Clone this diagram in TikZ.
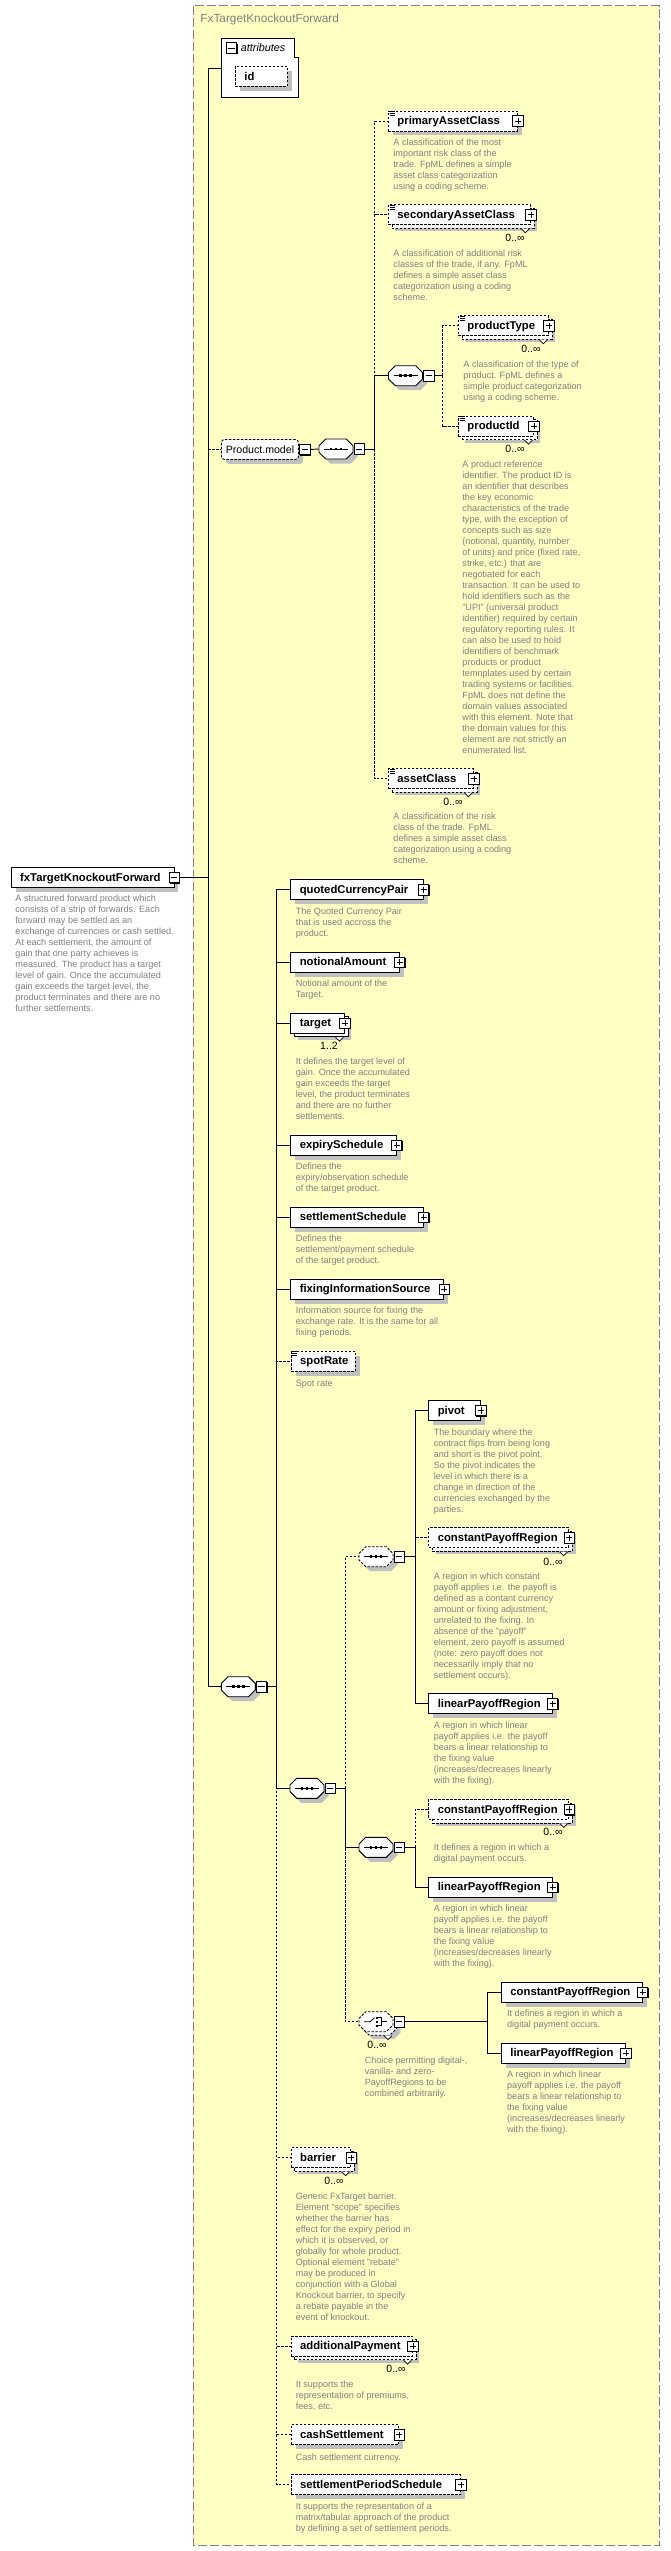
\documentclass[tikz,border=0pt]{standalone}
\usepackage{fontspec}
\setmainfont{Liberation Sans}
\usetikzlibrary{shadows}

\definecolor{paneyellow}{HTML}{FFFFC4}
\definecolor{framegray}{HTML}{808080}
\definecolor{notegray}{HTML}{808080}
\definecolor{shadowgray}{HTML}{C0C0C0}

\begin{document}
\begin{tikzpicture}[line width=0.9pt, x=1pt, y=-1pt,
  optdash/.style={dash pattern=on 2.5pt off 1.5pt},
  optline/.style={optdash},
  boxbase/.style={draw, fill=white, anchor=north west, minimum height=20pt,
    inner xsep=9pt, inner ysep=0pt, align=left, text height=9pt, text depth=1.4pt,
    font=\fontsize{11.3}{13}\selectfont\bfseries},
  elem/.style={boxbase, drop shadow={shadow xshift=4.5pt, shadow yshift=-4.5pt, fill=shadowgray, draw=none, opacity=1}},
  optelem/.style={elem, optdash},
  multi/.style={boxbase,
    drop shadow={shadow xshift=7pt, shadow yshift=-6.5pt, fill=shadowgray, draw=none, opacity=1},
    general shadow={shadow xshift=3.5pt, shadow yshift=-3.5pt, fill=white, draw=black, #1}},
  optmulti/.style={multi=optdash, optdash},
  groupbox/.style={draw, fill=white, optdash, rounded corners=3pt, anchor=north west,
    minimum width=77pt, minimum height=20pt, inner sep=0pt, font=\fontsize{10.6}{12}\selectfont,
    drop shadow={shadow xshift=4.5pt, shadow yshift=-4.5pt, fill=shadowgray, draw=none, opacity=1}},
  compnode/.style={minimum width=34pt, minimum height=20pt, inner sep=0pt},
  xbox/.style={draw, fill=white, minimum size=10.5pt, inner sep=0pt, line width=0.8pt,
    drop shadow={shadow xshift=0.8pt, shadow yshift=-0.8pt, fill=black, opacity=1}},
  minusbox/.style={xbox, path picture={
    \draw ([xshift=2.2pt]path picture bounding box.west) -- ([xshift=-2.2pt]path picture bounding box.east);}},
  plusbox/.style={xbox, path picture={
    \draw ([xshift=2.2pt]path picture bounding box.west) -- ([xshift=-2.2pt]path picture bounding box.east)
          ([yshift=2.2pt]path picture bounding box.south) -- ([yshift=-2.2pt]path picture bounding box.north);}},
  desc/.style={anchor=north west, inner sep=0pt, align=left, text=notegray,
    font=\fontsize{9.1}{11}\selectfont, execute at begin node=\strut},
  mult/.style={inner sep=0pt, font=\fontsize{10.5}{12}\selectfont},
  octpath/.style={insert path={(-17,-3.3) -- (-10.3,-10) -- (10.3,-10) -- (17,-3.3)
    -- (17,3.3) -- (10.3,10) -- (-10.3,10) -- (-17,3.3) -- cycle}},
  pics/seqshape/.style={code={
    \fill[shadowgray, shift={(4.5,4.5)}, octpath];
    \draw[fill=white, #1, octpath];
    \draw[line width=0.8pt] (-12,0) -- (12,0);
    \foreach \dx in {-5,0,5} \fill (\dx-1.4,-1.4) rectangle (\dx+1.4,1.4);
  }},
  pics/choiceshape/.style={code={
    \fill[shadowgray, shift={(7.5,7.5)}, octpath];
    \draw[fill=white, optdash, shift={(3.5,3.5)}, octpath];
    \draw[fill=white, optdash, octpath];
    \draw[line width=0.8pt] (-12,0) -- (-6,0) -- (-1.5,-4);
    \foreach \dy in {-4,0,4} \fill (0,\dy-1.2) rectangle (2.4,\dy+1.2);
    \draw[line width=0.8pt] (2.4,-4) -- (5,-4) -- (5,4) -- (2.4,4) (5,0) -- (11,0);
  }},
  pics/docicon/.style={code={
    \foreach \k in {1,3,5} \draw[line width=0.6pt] (1.5,\k) -- (6.5,\k);
  }},
  pics/notch/.style={code={
    \draw[fill=white, line width=0.7pt] (-4,0) -- (0,4) -- (4,0);
  }}]
  \useasboundingbox (0,0) rectangle (670,2551);
  \fill[white] (0,0) rectangle (670,2551);

  % The complex type pane behind the content model.
  \draw[framegray, fill=paneyellow, dash pattern=on 9pt off 3pt, line width=1pt] (193.5,5.5) rectangle (659,2545);
  \node[anchor=west, inner sep=0pt, text=framegray, font=\fontsize{11.8}{14}\selectfont] (pane-title) at (200,19) {FxTargetKnockoutForward};

  % The root element.
  \node[elem, text width=144.8pt] (fxtko) at (10.7,867) {fxTargetKnockoutForward};
  \node[minusbox] (fxtko-x) at (fxtko.east) {};

  % The attributes block with its one optional attribute.
  \draw[fill=white] (221,38.3) -- (294,38.3) -- (294,57.3) -- (298,57.3) -- (298,97.3) -- (221,97.3) -- cycle;
  \coordinate (attrs) at (221,68.3);
  \node[minusbox] (attrs-x) at (231.5,48) {};
  \node[anchor=west, inner sep=0pt, font=\fontsize{10.8}{12}\selectfont\itshape] (attrs-lbl) at (240.5,48) {attributes};
  \node[optelem, text width=34pt] (idattr) at (235,66) {id};

  % The optional Product.model group.
  \node[groupbox] (prodmodel) at (221,439) {Product.model};
  \node[minusbox] (prodmodel-x) at ([xshift=6pt]prodmodel.east) {};
  \node[compnode] (pmseq) at (336,449) {};
  \pic at (pmseq) {seqshape=solid};
  \node[minusbox] (pmseq-x) at ([xshift=5.7pt]pmseq.east) {};
  \node[compnode] (ptseq) at (405.5,375.7) {};
  \pic at (ptseq) {seqshape=solid};
  \node[minusbox] (ptseq-x) at ([xshift=5.7pt]ptseq.east) {};

  \node[optelem, text width=111pt] (primaryAC) at (388,110.5) {primaryAssetClass};
  \node[optmulti, text width=124pt] (secondaryAC) at (388,204.3) {secondaryAssetClass};
  \node[optmulti, text width=72pt] (prodType) at (458,315.3) {productType};
  \node[optmulti, text width=57pt] (prodId) at (458,415.7) {productId};
  \node[optmulti, text width=67pt] (assetCls) at (388,768.3) {assetClass};

  % The main sequence of the type.
  \node[compnode] (mainseq) at (238.3,1686.7) {};
  \pic at (mainseq) {seqshape=solid};
  \node[minusbox] (mainseq-x) at ([xshift=5.7pt]mainseq.east) {};

  \node[elem, text width=114.4pt] (qcp) at (290.3,879.3) {quotedCurrencyPair};
  \node[elem, text width=90.4pt] (notional) at (290.3,951.7) {notionalAmount};
  \node[multi=solid, text width=35.7pt] (target) at (290.3,1012.7) {target};
  \node[elem, text width=87.4pt] (expiry) at (290.3,1134.7) {expirySchedule};
  \node[elem, text width=114.4pt] (settleSched) at (290.3,1206.7) {settlementSchedule};
  \node[elem, text width=135pt] (fixingSrc) at (290.3,1278.7) {fixingInformationSource};
  \node[optelem, text width=46pt] (spotRate) at (290.7,1350.7) {spotRate};

  % The payoff regions: a sequence, a second sequence and a choice.
  \node[compnode] (midseq) at (307,1788.3) {};
  \pic at (midseq) {seqshape=solid};
  \node[minusbox] (midseq-x) at ([xshift=5.7pt]midseq.east) {};
  \node[compnode] (pvseq) at (376,1556.7) {};
  \pic at (pvseq) {seqshape=optdash};
  \node[minusbox] (pvseq-x) at ([xshift=5.7pt]pvseq.east) {};
  \node[compnode] (regseq) at (376,1847.3) {};
  \pic at (regseq) {seqshape=solid};
  \node[minusbox] (regseq-x) at ([xshift=5.7pt]regseq.east) {};
  \node[compnode] (regchoice) at (376,2021.7) {};
  \pic at (regchoice) {choiceshape};
  \node[minusbox] (regchoice-x) at ([xshift=5.7pt]regchoice.east) {};

  \node[elem, text width=33.7pt] (pivot) at (428.3,1400) {pivot};
  \node[optmulti, text width=122pt] (constA) at (428.3,1527.3) {constantPayoffRegion};
  \node[elem, text width=105.4pt] (linA) at (428.3,1693.3) {linearPayoffRegion};
  \node[optmulti, text width=122pt] (constB) at (428.3,1799) {constantPayoffRegion};
  \node[elem, text width=105.4pt] (linB) at (428.3,1876.7) {linearPayoffRegion};
  \node[elem, text width=122.7pt] (constC) at (501,1981.7) {constantPayoffRegion};
  \node[elem, text width=106pt] (linC) at (501,2042.7) {linearPayoffRegion};

  % The optional tail of the main sequence.
  \node[optmulti, text width=41.6pt] (barrier) at (290.7,2147.3) {barrier};
  \node[optmulti, text width=103.3pt] (addPay) at (290.7,2335.7) {additionalPayment};
  \node[optelem, text width=89.6pt] (cashSettle) at (290.7,2424.3) {cashSettlement};
  \node[optelem, text width=151.3pt] (periodSched) at (290.7,2474.3) {settlementPeriodSchedule};

  % Expand buttons, occurrence notches and documentation marks.
  \foreach \el in {primaryAC,secondaryAC,prodType,prodId,assetCls,qcp,notional,target,expiry,
      settleSched,fixingSrc,pivot,constA,linA,constB,linB,constC,linC,barrier,addPay,cashSettle,periodSched}
    \node[plusbox] (\el-x) at (\el.east) {};
  \foreach \el in {secondaryAC,prodType,prodId,assetCls,target,constA,constB,barrier,addPay}
    \pic at ([xshift=-5.5pt,yshift=-3.5pt]\el.south east) {notch};
  \pic at ([xshift=-5.5pt,yshift=-3.5pt]regchoice.south east) {notch};
  \foreach \el in {primaryAC,secondaryAC,prodType,prodId,assetCls,spotRate}
    \pic at (\el.north west) {docicon};

  % Connectors: solid for required children, dashed for optional ones.
  \draw (fxtko-x.east) -- ++(27.95,0) coordinate (trunk);
  \draw[optline] (trunk) |- (prodmodel.west);
  \draw (trunk) |- (attrs);
  \draw (trunk) |- (mainseq.west);

  \draw (prodmodel-x.east) -- (pmseq.west);
  \draw (pmseq-x.east) -- ++(9.75,0) coordinate (pmbus);
  \foreach \kid in {primaryAC,secondaryAC,assetCls}
    \draw[optline] (pmbus) |- (\kid.west);
  \draw (pmbus) |- (ptseq.west);
  \draw (ptseq-x.east) -- ++(8.5,0) coordinate (ptbus);
  \draw[optline] (ptbus) |- (prodType.west);
  \draw[optline] (ptbus) |- (prodId.west);

  \draw (mainseq-x.east) -- ++(9.45,0) coordinate (mainbus);
  \foreach \kid in {spotRate,barrier,addPay,cashSettle,periodSched}
    \draw[optline] (mainbus) |- (\kid.west);
  \foreach \kid in {qcp,notional,target,expiry,settleSched,fixingSrc,midseq}
    \draw (mainbus) |- (\kid.west);

  \draw (midseq-x.east) -- ++(9.35,0) coordinate (midbus);
  \draw[optline] (midbus) |- (pvseq.west);
  \draw[optline] (midbus) |- (regchoice.west);
  \draw (midbus) |- (regseq.west);

  \draw (pvseq-x.east) -- ++(10.3,0) coordinate (pvbus);
  \draw[optline] (pvbus) |- (constA.west);
  \draw (pvbus) |- (pivot.west);
  \draw (pvbus) |- (linA.west);
  \draw (regseq-x.east) -- ++(10.3,0) coordinate (regbus);
  \draw[optline] (regbus) |- (constB.west);
  \draw (regbus) |- (linB.west);
  \draw (regchoice-x.east) -- ++(83,0) coordinate (choicebus);
  \draw (choicebus) |- (constC.west);
  \draw (choicebus) |- (linC.west);

  % Occurrence counts.
  \node[mult] (secondaryAC-m) at (515,238) {0..∞};
  \node[mult] (prodType-m) at (531,349) {0..∞};
  \node[mult] (prodId-m) at (515,449) {0..∞};
  \node[mult] (assetCls-m) at (453,801.7) {0..∞};
  \node[mult] (target-m) at (329,1046) {1..2};
  \node[mult] (constA-m) at (553,1561.7) {0..∞};
  \node[mult] (constB-m) at (553,1832.3) {0..∞};
  \node[mult] (regchoice-m) at (377,2045) {0..∞};
  \node[mult] (barrier-m) at (334,2181) {0..∞};
  \node[mult] (addPay-m) at (396,2369) {0..∞};

  % Annotations under each item.
  \node[desc] (fxtko-d) at (15,894.6) {A structured forward product which\\consists of a strip of forwards. Each\\forward may be settled as an\\exchange of currencies or cash settled.\\At each settlement, the amount of\\gain that one party achieves is\\measured. The product has a target\\level of gain. Once the accumulated\\gain exceeds the target level, the\\product terminates and there are no\\further settlements.};
  \node[desc] (primaryAC-d) at (393,138) {A classification of the most\\important risk class of the\\trade. FpML defines a simple\\asset class categorization\\using a coding scheme.};
  \node[desc] (secondaryAC-d) at (393,249) {A classification of additional risk\\classes of the trade, if any. FpML\\defines a simple asset class\\categorization using a coding\\scheme.};
  \node[desc] (prodType-d) at (463,360) {A classification of the type of\\product. FpML defines a\\simple product categorization\\using a coding scheme.};
  \node[desc] (prodId-d) at (462,460) {A product reference\\identifier. The product ID is\\an identifier that describes\\the key economic\\characteristics of the trade\\type, with the exception of\\concepts such as size\\(notional, quantity, number\\of units) and price (fixed rate,\\strike, etc.) that are\\negotiated for each\\transaction. It can be used to\\hold identifiers such as the\\"UPI" (universal product\\identifier) required by certain\\regulatory reporting rules. It\\can also be used to hold\\identifiers of benchmark\\products or product\\temnplates used by certain\\trading systems or facilities.\\FpML does not define the\\domain values associated\\with this element. Note that\\the domain values for this\\element are not strictly an\\enumerated list.};
  \node[desc] (assetCls-d) at (393,812.3) {A classification of the risk\\class of the trade. FpML\\defines a simple asset class\\categorization using a coding\\scheme.};
  \node[desc] (qcp-d) at (295.3,907) {The Quoted Currency Pair\\that is used accross the\\product.};
  \node[desc] (notional-d) at (295.3,979) {Notional amount of the\\Target.};
  \node[desc] (target-d) at (295.3,1057) {It defines the target level of\\gain. Once the accumulated\\gain exceeds the target\\level, the product terminates\\and there are no further\\settlements.};
  \node[desc] (expiry-d) at (295.3,1162) {Defines the\\expiry/observation schedule\\of the target product.};
  \node[desc] (settleSched-d) at (295.3,1234) {Defines the\\settlement/payment schedule\\of the target product.};
  \node[desc] (fixingSrc-d) at (295.3,1306) {Information source for fixing the\\exchange rate. It is the same for all\\fixing periods.};
  \node[desc] (spotRate-d) at (295.3,1378) {Spot rate};
  \node[desc] (pivot-d) at (433.3,1428) {The boundary where the\\contract flips from being long\\and short is the pivot point.\\So the pivot indicates the\\level in which there is a\\change in direction of the\\currencies exchanged by the\\parties.};
  \node[desc] (constA-d) at (433.3,1572) {A region in which constant\\payoff applies i.e. the payoff is\\defined as a contant currency\\amount or fixing adjustment,\\unrelated to the fixing. In\\absence of the "payoff"\\element, zero payoff is assumed\\(note: zero payoff does not\\necessarily imply that no\\settlement occurs).};
  \node[desc] (linA-d) at (433.3,1721) {A region in which linear\\payoff applies i.e. the payoff\\bears a linear relationship to\\the fixing value\\(increases/decreases linearly\\with the fixing).};
  \node[desc] (constB-d) at (433.3,1843) {It defines a region in which a\\digital payment occurs.};
  \node[desc] (linB-d) at (433.3,1904) {A region in which linear\\payoff applies i.e. the payoff\\bears a linear relationship to\\the fixing value\\(increases/decreases linearly\\with the fixing).};
  \node[desc] (regchoice-d) at (364.3,2056) {Choice permitting digital-,\\vanilla- and zero-\\PayoffRegions to be\\combined arbitrarily.};
  \node[desc] (constC-d) at (506.7,2009.3) {It defines a region in which a\\digital payment occurs.};
  \node[desc] (linC-d) at (506.7,2070) {A region in which linear\\payoff applies i.e. the payoff\\bears a linear relationship to\\the fixing value\\(increases/decreases linearly\\with the fixing).};
  \node[desc] (barrier-d) at (295.3,2192) {Generic FxTarget barrier.\\Element "scope" specifies\\whether the barrier has\\effect for the expiry period in\\which it is observed, or\\globally for whole product.\\Optional element "rebate"\\may be produced in\\conjunction with a Global\\Knockout barrier, to specify\\a rebate payable in the\\event of knockout.};
  \node[desc] (addPay-d) at (295.3,2380.3) {It supports the\\representation of premiums,\\fees, etc.};
  \node[desc] (cashSettle-d) at (295.3,2452) {Cash settlement currency.};
  \node[desc] (periodSched-d) at (295.3,2502) {It supports the representation of a\\matrix/tabular approach of the product\\by defining a set of settlement periods.};
\end{tikzpicture}
\end{document}
